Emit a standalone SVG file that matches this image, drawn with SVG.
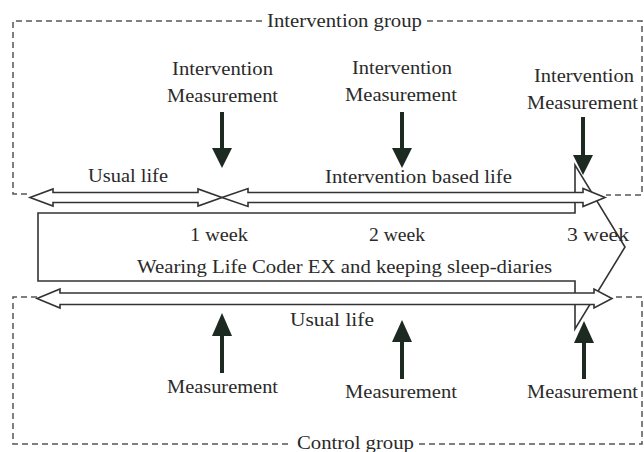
<svg xmlns="http://www.w3.org/2000/svg" width="644" height="452" viewBox="0 0 644 452">
<style>
.t{font-family:"Liberation Serif","Times New Roman",serif;font-size:19px;fill:#2a2a2a}
.dash{fill:none;stroke:#555;stroke-width:1.5;stroke-dasharray:6 4}
.outl{fill:#fff;stroke:#333;stroke-width:1.6;stroke-linejoin:miter}
.solid{fill:#1c2a22}
</style>
<rect width="644" height="452" fill="#fff"/>
<g id="intervention-group">
<path class="dash" d="M262,21 H13 V194 H30 M427,21 H642 V195 H606"/>
<text class="t" x="267" y="27" textLength="155" lengthAdjust="spacingAndGlyphs">Intervention group</text>
</g>
<g id="control-group">
<path class="dash" d="M37,297 H13 V444 H292 M419,444 H642 V297 H612"/>
<text class="t" x="297" y="449" textLength="117" lengthAdjust="spacingAndGlyphs">Control group</text>
</g>
<g id="main-arrow">
<polygon class="outl" points="38,213 575,213 575,165 625,247 575,329 575,281 38,281"/>
<text class="t" x="190" y="241" textLength="58" lengthAdjust="spacingAndGlyphs">1 week</text>
<text class="t" x="369" y="241" textLength="56" lengthAdjust="spacingAndGlyphs">2 week</text>
<text class="t" x="567" y="241" textLength="62" lengthAdjust="spacingAndGlyphs">3 week</text>
<text class="t" x="137" y="273" textLength="415" lengthAdjust="spacingAndGlyphs">Wearing Life Coder EX and keeping sleep-diaries</text>
</g>
<g id="connectors">
<polygon class="outl" points="30,197.5 53,189 53,192.5 198,192.5 198,189 222,197.5 198,206 198,202.5 53,202.5 53,206"/>
<polygon class="outl" points="222,197.5 248,188.5 248,192.5 583,192.5 583,188.5 605,197.5 583,206.5 583,202.5 248,202.5 248,206.5"/>
<polygon class="outl" points="37,298.5 60,289 60,293 594,293 594,289 612,298.5 594,308 594,304.5 60,304.5 60,308"/>
<g class="solid">
<rect x="220" y="112" width="4" height="38"/><polygon points="212,148 232,148 222,168"/>
<rect x="400" y="112" width="4" height="38"/><polygon points="392,148 412,148 402,168"/>
<rect x="581" y="117" width="4" height="40"/><polygon points="573,155 593,155 583,175"/>
<rect x="220" y="334" width="4" height="39"/><polygon points="222,313 212,336 232,336"/>
<rect x="400" y="340" width="4" height="39"/><polygon points="402,320 392,342 412,342"/>
<rect x="582" y="341" width="4" height="38"/><polygon points="584,321 574,343 594,343"/>
</g>
</g>
<g id="labels">
<text class="t" x="172" y="75" textLength="101" lengthAdjust="spacingAndGlyphs">Intervention</text>
<text class="t" x="167" y="102" textLength="111" lengthAdjust="spacingAndGlyphs">Measurement</text>
<text class="t" x="352" y="74" textLength="100" lengthAdjust="spacingAndGlyphs">Intervention</text>
<text class="t" x="345" y="101" textLength="112" lengthAdjust="spacingAndGlyphs">Measurement</text>
<text class="t" x="534" y="82" textLength="100" lengthAdjust="spacingAndGlyphs">Intervention</text>
<text class="t" x="527" y="109" textLength="111" lengthAdjust="spacingAndGlyphs">Measurement</text>
<text class="t" x="88" y="182" textLength="80" lengthAdjust="spacingAndGlyphs">Usual life</text>
<text class="t" x="325" y="183" textLength="187" lengthAdjust="spacingAndGlyphs">Intervention based life</text>
<text class="t" x="290" y="326" textLength="84" lengthAdjust="spacingAndGlyphs">Usual life</text>
<text class="t" x="167" y="393" textLength="111" lengthAdjust="spacingAndGlyphs">Measurement</text>
<text class="t" x="345" y="398" textLength="112" lengthAdjust="spacingAndGlyphs">Measurement</text>
<text class="t" x="527" y="398" textLength="111" lengthAdjust="spacingAndGlyphs">Measurement</text>
</g>
</svg>
